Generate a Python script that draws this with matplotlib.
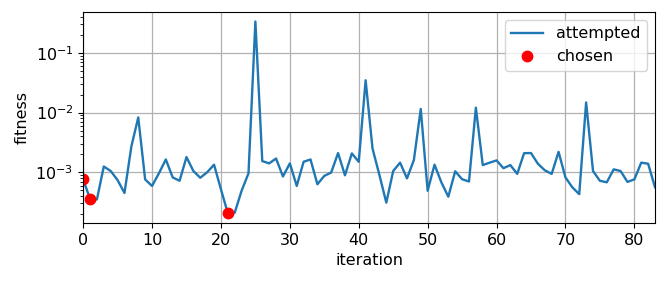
import matplotlib
matplotlib.use("Agg")
from matplotlib import pyplot as plt
import numpy as np

# fitness of every attempted candidate
attempted = [
    7.6e-4, 3.6e-4, 3.5e-4, 1.25e-3, 1.05e-3, 7.4e-4, 4.5e-4, 2.7e-3, 8.3e-3, 7.6e-4,
    5.9e-4, 9.6e-4, 1.64e-3, 8.2e-4, 7.2e-4, 1.8e-3, 1.05e-3, 8.1e-4, 1.0e-3, 1.34e-3,
    5.2e-4, 2.05e-4, 2.1e-4, 4.9e-4, 9.6e-4, 0.336, 1.54e-3, 1.41e-3, 1.7e-3, 8.5e-4,
    1.41e-3, 5.9e-4, 1.5e-3, 1.64e-3, 6.3e-4, 8.7e-4, 9.9e-4, 2.1e-3, 8.9e-4, 2.07e-3,
    1.5e-3, 0.0348, 2.5e-3, 9.0e-4, 3.1e-4, 1.05e-3, 1.45e-3, 7.9e-4, 1.6e-3, 0.0115,
    4.9e-4, 1.34e-3, 6.75e-4, 3.9e-4, 1.04e-3, 7.65e-4, 7.0e-4, 0.0121, 1.32e-3, 1.45e-3,
    1.58e-3, 1.17e-3, 1.32e-3, 9.4e-4, 2.09e-3, 2.1e-3, 1.39e-3, 1.08e-3, 9.4e-4, 2.2e-3,
    8.2e-4, 5.6e-4, 4.3e-4, 0.0148, 1.05e-3, 7.2e-4, 6.8e-4, 1.12e-3, 1.05e-3, 6.9e-4,
    7.6e-4, 1.45e-3, 1.39e-3, 5.6e-4,
]
chosen_iter = [0, 1, 21]
chosen_fit = [7.6e-4, 3.6e-4, 2.05e-4]

iterations = np.arange(len(attempted))

plt.rcParams["font.size"] = 11.5

fig = plt.figure(figsize=(6.65, 2.84), dpi=100)
ax = fig.add_axes([0.125, 0.215, 0.86, 0.743])
ax.plot(iterations, attempted, color="#1f77b4", linewidth=1.7, label="attempted")
ax.plot(chosen_iter, chosen_fit, "o", color="red", markersize=7.5, label="chosen")
ax.set_yscale("log")
ax.set_xlim(0, len(attempted) - 1)
ax.set_xlabel("iteration")
ax.set_ylabel("fitness")
ax.grid(True, which="major", color="#b0b0b0", linewidth=0.9)
ax.legend(loc="upper right")
fig.savefig("out.png", dpi=100)
